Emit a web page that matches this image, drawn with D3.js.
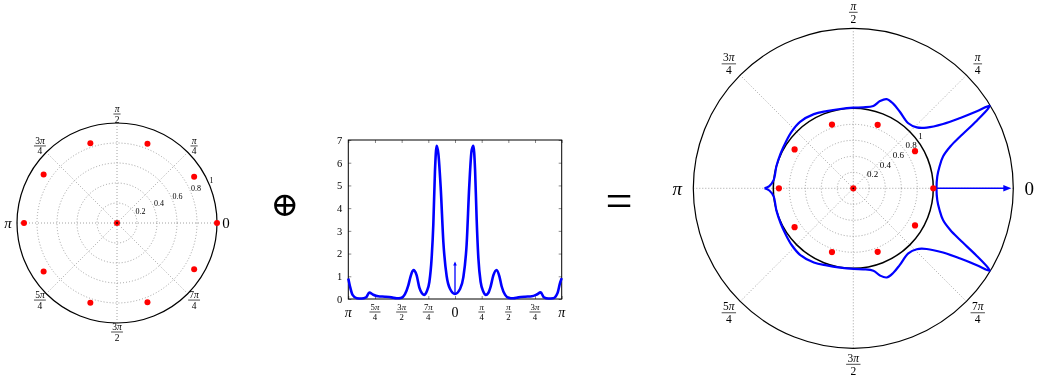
<!DOCTYPE html>
<html>
<head>
<meta charset="utf-8">
<title>Polar sum</title>
<script src="https://d3js.org/d3.v7.min.js"></script>
<style>
  body { margin: 0; background: #fff; }
  text { font-family: "Liberation Serif", "DejaVu Serif", serif; fill: #000; filter: grayscale(1); }
</style>
</head>
<body>
<div id="chart"></div>
<script>
// red points (angle in degrees, radius), same in both polar plots
let pointAngles = [0, 31, 69, 108.5, 146.5, 180, 213.5, 251.5, 291, 329, 0];
let pointRadii  = [1.0, 0.9, 0.85, 0.84, 0.88, 0.93, 0.88, 0.84, 0.85, 0.9, 0];

// middle spectrum: angle in multiples of pi, value
let specAngles = [-1, -0.984, -0.96, -0.92, -0.875, -0.834, -0.803, -0.766, -0.72, -0.656, -0.594, -0.547,
  -0.5, -0.47, -0.4375, -0.416, -0.39, -0.36, -0.334, -0.31, -0.29, -0.266, -0.24, -0.219, -0.203,
  -0.188, -0.172, -0.156, -0.134, -0.109, -0.078, -0.047, 0,
  0.047, 0.078, 0.109, 0.134, 0.156, 0.172, 0.188, 0.203, 0.219, 0.24, 0.266, 0.29, 0.31, 0.334,
  0.36, 0.39, 0.416, 0.4375, 0.47, 0.5, 0.547, 0.594, 0.656, 0.72, 0.766, 0.803, 0.834, 0.875,
  0.92, 0.96, 0.984, 1];
let specValues = [0.9, 0.55, 0.18, 0.03, 0.02, 0.07, 0.28, 0.19, 0.12, 0.1, 0.07, 0.03,
  0.06, 0.2, 0.6, 1.0, 1.27, 1.05, 0.5, 0.25, 0.18, 0.32, 0.76, 1.8, 3.3,
  5.6, 6.75, 6.4, 4.9, 2.5, 1.0, 0.45, 0.22,
  0.44, 0.95, 2.4, 5.0, 6.55, 6.75, 5.7, 3.5, 1.8, 0.76, 0.32, 0.18, 0.25, 0.55,
  1.05, 1.28, 1.0, 0.55, 0.18, 0.06, 0.03, 0.07, 0.1, 0.12, 0.2, 0.29, 0.07, 0.02,
  0.03, 0.25, 0.7, 0.92];
let impulseValue = 1.65;

// right polar curve: angle in degrees, radius
let curveAngles = [-180, -178.5, -174, -164, -154.3, -145.3, -137.4, -128.7, -118, -109, -99.5, -90,
  -83, -76.3, -73, -69.5, -64.8, -58.7, -49.8, -43.8, -39.6, -35.6, -33.3, -31.9, -31.2, -30.6,
  -28.7, -25.8, -23.3, -19.5, -14, -8, 0,
  8, 14, 19.5, 23.3, 25.8, 28.7, 30.6, 31.2, 31.9, 33.3, 35.6, 39.6, 43.8, 49.8, 58.7,
  64.8, 69.5, 73, 76.3, 83, 90, 99.5, 109, 118, 128.7, 137.4, 145.3, 154.3, 164, 174, 178.5, 180];
let curveRadii = [1.11, 1.05, 1.0, 1.0, 1.008, 1.024, 1.047, 1.065, 1.05, 1.02, 1.005, 1.008,
  1.02, 1.06, 1.14, 1.19, 1.17, 1.12, 1.065, 1.1, 1.19, 1.38, 1.6, 1.82, 1.99, 1.96,
  1.76, 1.48, 1.32, 1.19, 1.11, 1.06, 1.04,
  1.06, 1.11, 1.19, 1.32, 1.48, 1.76, 1.96, 1.99, 1.82, 1.6, 1.38, 1.19, 1.1, 1.065, 1.12,
  1.17, 1.19, 1.14, 1.06, 1.02, 1.008, 1.005, 1.02, 1.05, 1.065, 1.047, 1.024, 1.008, 1.0, 1.0, 1.05, 1.11];

let ringValues = [0.2, 0.4, 0.6, 0.8];
let ringLabels = ["0.2", "0.4", "0.6", "0.8", "1"];
let spokeAngles = [0, 45, 90, 135, 180, 225, 270, 315];
let spokeLabels = [["0"], ["π", "4"], ["π", "2"], ["3π", "4"], ["π"], ["5π", "4"], ["3π", "2"], ["7π", "4"]];
let xTickValues = [-1, -0.75, -0.5, -0.25, 0, 0.25, 0.5, 0.75, 1];
let xTickLabels = [["π"], ["5π", "4"], ["3π", "2"], ["7π", "4"], ["0"], ["π", "4"], ["π", "2"], ["3π", "4"], ["π"]];
let yTickValues = [0, 1, 2, 3, 4, 5, 6, 7];

let svg = d3.select("#chart").append("svg")
    .attr("width", 1042)
    .attr("height", 381);

// pi in italic, the rest upright
function mathText(t, str) {
    str.split(/(π)/).forEach(function(s) {
        if (!s) return;
        t.append("tspan").style("font-style", s === "π" ? "italic" : "normal").text(s);
    });
}

// single symbol or fraction centred on (x, y)
function mathLabel(g, x, y, parts, fs, ffs) {
    if (parts.length === 1) {
        let t = g.append("text")
            .attr("x", x).attr("y", y)
            .attr("dy", "0.33em")
            .attr("text-anchor", "middle")
            .attr("font-size", fs);
        mathText(t, parts[0]);
        return;
    }
    let num = g.append("text")
        .attr("x", x).attr("y", y - ffs * 0.22)
        .attr("text-anchor", "middle")
        .attr("font-size", ffs);
    mathText(num, parts[0]);
    let den = g.append("text")
        .attr("x", x).attr("y", y + ffs * 0.9)
        .attr("text-anchor", "middle")
        .attr("font-size", ffs);
    mathText(den, parts[1]);
    let w = Math.max(num.node().getComputedTextLength(), den.node().getComputedTextLength()) + ffs * 0.25;
    g.append("line")
        .attr("x1", x - w / 2).attr("x2", x + w / 2)
        .attr("y1", y).attr("y2", y)
        .attr("stroke", "#000")
        .attr("stroke-width", 0.7);
}

function drawPolar(cx, cy, R, rMax, opt) {
    let g = svg.append("g").attr("transform", "translate(" + cx + "," + cy + ")");
    let r = d3.scaleLinear().domain([0, rMax]).range([0, R]);
    let px = function(a, v) { return r(v) * Math.cos(a * Math.PI / 180); };
    let py = function(a, v) { return -r(v) * Math.sin(a * Math.PI / 180); };

    // grid
    g.selectAll(".ring").data(ringValues).enter().append("circle")
        .attr("r", function(d) { return r(d); })
        .attr("fill", "none")
        .attr("stroke", "#8c8c8c")
        .attr("stroke-width", 0.8)
        .attr("stroke-dasharray", "1,2");
    g.selectAll(".spoke").data(spokeAngles).enter().append("line")
        .attr("x1", 0).attr("y1", 0)
        .attr("x2", function(d) { return px(d, rMax); })
        .attr("y2", function(d) { return py(d, rMax); })
        .attr("stroke", "#8c8c8c")
        .attr("stroke-width", 0.8)
        .attr("stroke-dasharray", "1,2");

    if (rMax > 1) {
        g.append("circle").attr("r", r(1))
            .attr("fill", "none").attr("stroke", "#000").attr("stroke-width", 1.5);
    }
    g.append("circle").attr("r", r(rMax))
        .attr("fill", "none").attr("stroke", "#000").attr("stroke-width", 1.2);

    // radial labels
    let rl = [0.2, 0.4, 0.6, 0.8, 1];
    g.selectAll(".rl").data(rl).enter().append("text")
        .attr("x", function(d) { return px(opt.radAngle, d) + opt.radDx; })
        .attr("y", function(d) { return py(opt.radAngle, d) - 1.5; })
        .attr("font-size", opt.radFs)
        .attr("fill", "#222")
        .text(function(d, i) { return ringLabels[i]; });

    // angle labels
    spokeAngles.forEach(function(a, i) {
        mathLabel(g, px(a, rMax) * opt.labelR / R, py(a, rMax) * opt.labelR / R,
            spokeLabels[i], opt.fs, opt.ffs);
    });

    if (opt.curve) {
        let line = d3.lineRadial()
            .angle(function(d) { return Math.PI / 2 - d[0] * Math.PI / 180; })
            .radius(function(d) { return r(d[1]); })
            .curve(d3.curveCatmullRom.alpha(0.5));
        g.append("path")
            .datum(d3.zip(curveAngles, curveRadii))
            .attr("d", line)
            .attr("fill", "none")
            .attr("stroke", "#0000ff")
            .attr("stroke-width", 2.2);

        // arrow along angle 0
        let r0 = curveRadii[curveAngles.indexOf(0)];
        let tip = r(rMax) - 2;
        g.append("line")
            .attr("x1", r(r0)).attr("y1", 0)
            .attr("x2", tip - 6).attr("y2", 0)
            .attr("stroke", "#0000ff")
            .attr("stroke-width", 1.6);
        g.append("path")
            .attr("d", "M" + tip + ",0L" + (tip - 8) + ",-3.3L" + (tip - 8) + ",3.3Z")
            .attr("fill", "#0000ff");
    }

    // points
    g.selectAll(".pt").data(d3.zip(pointAngles, pointRadii)).enter().append("circle")
        .attr("cx", function(d) { return px(d[0], d[1]); })
        .attr("cy", function(d) { return py(d[0], d[1]); })
        .attr("r", opt.dot)
        .attr("fill", "#ff0000");
    g.append("circle").attr("r", 0.9).attr("fill", "#000");
}

drawPolar(117, 223, 100, 1, {radAngle: 22.5, radDx: 0, radFs: 8, labelR: 109, fs: 15, ffs: 9.5, dot: 3, curve: false});
drawPolar(853.3, 188.3, 160, 2, {radAngle: 37, radDx: 1, radFs: 9, labelR: 176, fs: 19, ffs: 11.5, dot: 3.1, curve: true});

// middle spectrum chart
let box = {left: 348.3, right: 561.7, top: 140, bottom: 299};
let xScale = d3.scaleLinear().domain([-1, 1]).range([box.left, box.right]);
let yScale = d3.scaleLinear().domain([0, 7]).range([box.bottom, box.top]);

let mid = svg.append("g");
mid.append("g")
    .attr("transform", "translate(0," + box.bottom + ")")
    .call(d3.axisBottom(xScale).tickValues(xTickValues).tickSize(-3).tickFormat(""));
mid.append("g")
    .attr("transform", "translate(0," + box.top + ")")
    .call(d3.axisTop(xScale).tickValues(xTickValues).tickSize(-3).tickFormat(""));
mid.append("g")
    .attr("transform", "translate(" + box.left + ",0)")
    .call(d3.axisLeft(yScale).tickValues(yTickValues).tickSize(-3).tickPadding(6).tickFormat(d3.format("d")));
mid.append("g")
    .attr("transform", "translate(" + box.right + ",0)")
    .call(d3.axisRight(yScale).tickValues(yTickValues).tickSize(-3).tickFormat(""));
mid.selectAll(".domain").remove();
mid.selectAll(".tick line").attr("stroke", "#555").attr("stroke-width", 0.7);
mid.selectAll(".tick text")
    .attr("font-family", "Liberation Serif, serif")
    .attr("font-size", 10.5);

mid.append("rect")
    .attr("x", box.left).attr("y", box.top)
    .attr("width", box.right - box.left).attr("height", box.bottom - box.top)
    .attr("fill", "none").attr("stroke", "#000").attr("stroke-width", 1);

xTickValues.forEach(function(v, i) {
    mathLabel(mid, xScale(v), 312, xTickLabels[i], 14, 8.8);
});

let specLine = d3.line()
    .x(function(d) { return xScale(d[0]); })
    .y(function(d) { return yScale(d[1]); })
    .curve(d3.curveMonotoneX);
mid.append("path")
    .datum(d3.zip(specAngles, specValues))
    .attr("d", specLine)
    .attr("fill", "none")
    .attr("stroke", "#0000ff")
    .attr("stroke-width", 2.6)
    .attr("stroke-linejoin", "round");

// impulse at 0
let v0 = specValues[specAngles.indexOf(0)];
mid.append("line")
    .attr("x1", xScale(0)).attr("x2", xScale(0))
    .attr("y1", yScale(v0)).attr("y2", yScale(impulseValue) + 2)
    .attr("stroke", "#0000ff").attr("stroke-width", 1.3);
mid.append("path")
    .attr("d", "M" + xScale(0) + "," + yScale(impulseValue) +
        "L" + (xScale(0) - 1.8) + "," + (yScale(impulseValue) + 4) +
        "L" + (xScale(0) + 1.8) + "," + (yScale(impulseValue) + 4) + "Z")
    .attr("fill", "#0000ff");

// operators between the plots
svg.append("text")
    .attr("x", 284.7).attr("y", 205.3)
    .attr("dy", "0.3em")
    .attr("text-anchor", "middle")
    .attr("font-family", "DejaVu Sans, sans-serif")
    .attr("font-size", 34)
    .text("⊕");
svg.append("text")
    .attr("x", 619).attr("y", 205)
    .attr("dy", "0.25em")
    .attr("text-anchor", "middle")
    .attr("font-size", 48)
    .text("=");
</script>
</body>
</html>
